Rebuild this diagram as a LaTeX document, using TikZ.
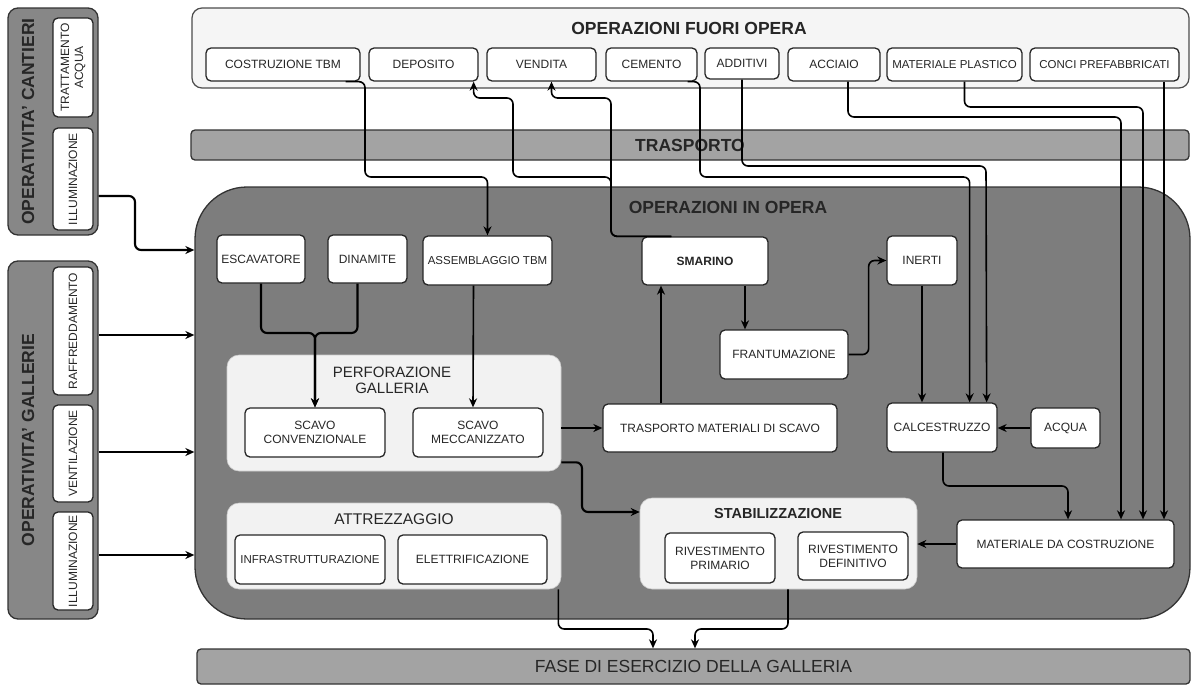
\documentclass[tikz,border=0pt]{standalone}
\usepackage{fontspec}
\setmainfont{Liberation Sans}
\usetikzlibrary{arrows.meta,calc}

\begin{document}
\begin{tikzpicture}[
  x=1pt, y=-1pt,
  >=Stealth,
  box/.style={draw=black!85, fill=white, rounded corners=5pt, line width=1.3pt,
    align=center, inner sep=1pt, text=black!85, font=\fontsize{12}{14}\selectfont},
  grp/.style={draw=black!20, fill=black!5, rounded corners=12pt, line width=0.6pt},
  panel/.style={draw=black!80, fill=black!47, rounded corners=10pt, line width=1.3pt},
  bar/.style={draw=black!80, fill=black!36, rounded corners=4pt, line width=1.3pt, text=black!85},
  ttl/.style={text=black!85, font=\fontsize{17.5}{20}\selectfont\bfseries},
  flow/.style={-{Stealth[length=9pt,width=8pt]}, line width=1.6pt, rounded corners=6pt},
  bigflow/.style={flow, line width=2.1pt}
]
\useasboundingbox (0,0) rectangle (1192,686);

% --- background panels ---
\node[panel, minimum width=90, minimum height=227] (cant) at (53,121.5) {};
\node[panel, minimum width=90, minimum height=358] (gall) at (53,440) {};
\node[draw=black!70, fill=black!4, rounded corners=10pt, line width=1.2pt,
  minimum width=997, minimum height=80] (fuori) at (690.5,48) {};
\node[bar, minimum width=998, minimum height=30, ttl] (trasp) at (690,145) {TRASPORTO};
\node[panel, fill=black!51, rounded corners=52pt, minimum width=995, minimum height=432] (inopera) at (692.5,403) {};
\node[bar, minimum width=993, minimum height=35, font=\fontsize{17.5}{20}\selectfont] (fase) at (693.5,666.5) {FASE DI ESERCIZIO DELLA GALLERIA};

% --- titles ---
\node[ttl, rotate=90] (cantttl) at (28,121.5) {OPERATIVITA' CANTIERI};
\node[ttl, rotate=90] (gallttl) at (28,440) {OPERATIVITA' GALLERIE};
\node[ttl] (fuorittl) at (689,28) {OPERAZIONI FUORI OPERA};
\node[ttl] (inoperattl) at (728,207) {OPERAZIONI IN OPERA};

% --- left side ---
\node[box, rotate=90, minimum width=99, minimum height=40] (tratt) at (73,67.5) {TRATTAMENTO\\ACQUA};
\node[box, rotate=90, minimum width=102, minimum height=40] (illumc) at (73,179) {ILLUMINAZIONE};
\node[box, rotate=90, minimum width=128, minimum height=40] (raffr) at (73,331) {RAFFREDDAMENTO};
\node[box, rotate=90, minimum width=97, minimum height=40] (vent) at (73,453.5) {VENTILAZIONE};
\node[box, rotate=90, minimum width=98, minimum height=40] (illumg) at (73,561) {ILLUMINAZIONE};

% --- operazioni fuori opera ---
\node[box, minimum width=154, minimum height=33] (costr) at (283,64.5) {COSTRUZIONE TBM};
\node[box, minimum width=109, minimum height=33] (deposito) at (423.5,64.5) {DEPOSITO};
\node[box, minimum width=109, minimum height=33] (vendita) at (541.5,64.5) {VENDITA};
\node[box, minimum width=91, minimum height=33] (cemento) at (651.5,64.5) {CEMENTO};
\node[box, minimum width=74, minimum height=31] (additivi) at (742,63.5) {ADDITIVI};
\node[box, minimum width=92, minimum height=33] (acciaio) at (834,64.5) {ACCIAIO};
\node[box, minimum width=135, minimum height=33, font=\fontsize{11.5}{14}\selectfont] (plastico) at (954.5,64.5) {MATERIALE PLASTICO};
\node[box, minimum width=149, minimum height=33, font=\fontsize{11.5}{14}\selectfont] (conci) at (1104.5,64.5) {CONCI PREFABBRICATI};

% --- groups ---
\node[grp, minimum width=334, minimum height=116] (perf) at (394,413) {};
\node[grp, minimum width=334, minimum height=86] (attr) at (394,546) {};
\node[grp, minimum width=277, minimum height=91] (stab) at (778.5,543.5) {};
\node[text=black!85, font=\fontsize{15}{16}\selectfont, align=center] (perfttl) at (392,380) {PERFORAZIONE\\GALLERIA};
\node[text=black!85, font=\fontsize{15.5}{17}\selectfont] (attrttl) at (394,519) {ATTREZZAGGIO};
\node[text=black!85, font=\fontsize{14.5}{17}\selectfont\bfseries] (stabttl) at (778,514) {STABILIZZAZIONE};

% --- operazioni in opera ---
\node[box, minimum width=88, minimum height=48] (escav) at (261,259) {ESCAVATORE};
\node[box, minimum width=79, minimum height=48] (dinamite) at (367.5,259) {DINAMITE};
\node[box, minimum width=129, minimum height=49, font=\fontsize{11.5}{14}\selectfont] (assemb) at (487.5,260.5) {ASSEMBLAGGIO TBM};
\node[box, minimum width=126, minimum height=48, font=\fontsize{12}{14}\selectfont\bfseries] (smarino) at (705,261) {SMARINO};
\node[box, minimum width=70, minimum height=49] (inerti) at (922,260.5) {INERTI};
\node[box, minimum width=128, minimum height=49] (frant) at (784,354.5) {FRANTUMAZIONE};
\node[box, minimum width=140, minimum height=49] (scavoc) at (315,432.5) {SCAVO\\CONVENZIONALE};
\node[box, minimum width=130, minimum height=49] (scavom) at (478,432.5) {SCAVO\\MECCANIZZATO};
\node[box, minimum width=234, minimum height=48] (trmat) at (720,428) {TRASPORTO MATERIALI DI SCAVO};
\node[box, minimum width=110, minimum height=49] (calc) at (942,427.5) {CALCESTRUZZO};
\node[box, minimum width=69, minimum height=40] (acqua) at (1065.5,428) {ACQUA};
\node[box, minimum width=150, minimum height=49, font=\fontsize{11.5}{14}\selectfont] (infra) at (310,559.5) {INFRASTRUTTURAZIONE};
\node[box, minimum width=149, minimum height=49] (elettr) at (472.5,559.5) {ELETTRIFICAZIONE};
\node[box, minimum width=110, minimum height=50] (rivp) at (720,558) {RIVESTIMENTO\\PRIMARIO};
\node[box, minimum width=110, minimum height=48] (rivd) at (853,556) {RIVESTIMENTO\\DEFINITIVO};
\node[box, minimum width=217, minimum height=48] (matcos) at (1065.5,544) {MATERIALE DA COSTRUZIONE};

% --- connectors from the left panels ---
\draw[bigflow] (cant.east |- 0,196) -| (135,250) -- (inopera.west |- 0,250);
\draw[bigflow] (gall.east |- 0,335) -- (inopera.west |- 0,335);
\draw[bigflow] (gall.east |- 0,452) -- (inopera.west |- 0,452);
\draw[bigflow] (gall.east |- 0,555) -- (inopera.west |- 0,555);

% --- connectors through TRASPORTO ---
\draw[flow] ([xshift=-15]costr.south east) -| (365,177) -| (assemb.north);
\draw[flow] ([xshift=30]smarino.north west) -| (611,177) -| (513,98) -| ([xshift=-5]deposito.south east);
\draw[flow] ([xshift=30]smarino.north west) -| (611,98) -| ([xshift=10]vendita.south);
\draw[flow] ([xshift=-10]cemento.south east) -| (700,177) -| ([xshift=-28]calc.north east);
\draw[flow] (additivi.south) |- (986,166) -- ([xshift=-11]calc.north east);
\draw[flow] ([xshift=14]acciaio.south) |- (1121,117) -- ([xshift=55.5]matcos.north);
\draw[flow] ([xshift=10]plastico.south) |- (1143,107) -- ([xshift=77.5]matcos.north);
\draw[flow] ([xshift=59.5]conci.south) -- ([xshift=98.5]matcos.north);

% --- connectors inside ---
\draw[bigflow] (escav.south) |- (scavoc.north |- 0,333) -- (scavoc.north);
\draw[bigflow] ([xshift=-10]dinamite.south) |- (scavoc.north |- 0,333) -- (scavoc.north);
\draw[flow] ([xshift=-14]assemb.south) -- ([xshift=-5]scavom.north);
\draw[bigflow] (perf.east |- trmat.west) -- (trmat.west);
\draw[flow, line width=1.8pt] ([xshift=-59]trmat.north) -- ([xshift=-44]smarino.south);
\draw[flow] ([xshift=40]smarino.south) -- ([xshift=-39]frant.north);
\draw[flow] (frant.east) -- ++(20,0) |- (inerti.west);
\draw[flow] (inerti.south) -- (calc.north -| inerti.south);
\draw[flow, line width=1.1pt] (acqua.west) -- (calc.east |- acqua.west);
\draw[flow] ([xshift=1]calc.south) |- (1068,486) -- ([xshift=2.5]matcos.north);
\draw[bigflow] (matcos.west) -- (stab.east |- matcos.west);
\draw[bigflow] ([yshift=9]perf.south east) -| (582,512) -- (stab.west |- 0,512);

% --- towards FASE DI ESERCIZIO ---
\draw[flow] ([xshift=-3]attr.south east) |- (653,629) -- ([xshift=-40.5]fase.north);
\draw[flow] ([xshift=9.5]stab.south) |- (695,629) -- ([xshift=1.5]fase.north);

\end{tikzpicture}
\end{document}
